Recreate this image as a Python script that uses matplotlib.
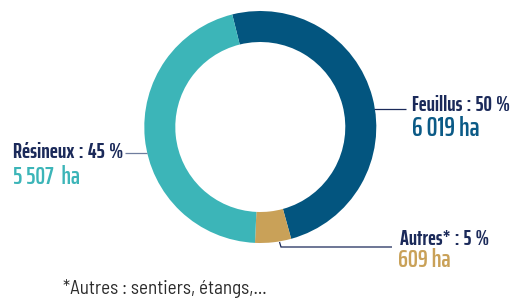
import matplotlib
matplotlib.use("Agg")
import matplotlib.pyplot as plt

# ---- data ----
categories = ["Feuillus", "Autres*", "Résineux"]
hectares = [6019, 609, 5507]
percents = [50, 5, 45]
value_labels = ["6 019 ha", "609 ha", "5 507  ha"]
footnote = "*Autres : sentiers, étangs,..."

# ---- style ----
W, H = 514, 298
seg_colors = ["#03557F", "#C9A158", "#3CB5B8"]
val_colors = ["#0B5A86", "#C9A158", "#3CB5B8"]
navy = "#1B2A5A"
label_font = ["Saira ExtraCondensed", "DejaVu Sans"]
foot_font = "Barlow Semi Condensed"

fig = plt.figure(figsize=(W / 100, H / 100), dpi=100)
ax = fig.add_axes([0, 0, 1, 1])

def py(y):
    return H - y

cx, cy, R, ring = 260.3, 127.0, 116.0, 31.0
ax.pie(hectares, colors=seg_colors, startangle=104, counterclock=False,
       center=(cx, py(cy)), radius=R,
       wedgeprops=dict(width=ring, edgecolor="none", linewidth=0))
ax.set_xlim(0, W)
ax.set_ylim(0, H)
ax.set_aspect("equal")
ax.axis("off")

# leader lines
ax.plot([374, 406], [py(109), py(109)], color=navy, lw=0.9, solid_capstyle="butt")
ax.plot([125, 147], [py(153.3), py(153.3)], color="#6F7D9E", lw=0.9, solid_capstyle="butt")
ax.plot([279.5, 281, 392], [py(242), py(247), py(247)], color=navy, lw=0.9,
        solid_capstyle="butt", solid_joinstyle="miter")

renderer = fig.canvas.get_renderer()

def fitted(x, y, s, width, **kw):
    t = ax.text(x, py(y), s, ha="left", va="baseline", **kw)
    for _ in range(3):
        w = t.get_window_extent(renderer=renderer).width
        t.set_fontsize(t.get_fontsize() * width / w)
    return t

TS = "\u2009"
def lab(i):
    return f"{categories[i]}{TS}:{TS}{percents[i]}{TS}%"

# Feuillus
fitted(411.5, 111.0, lab(0), 98, color=navy, family=label_font, weight="bold", fontsize=16)
fitted(412.0, 136.0, value_labels[0], 68, color=val_colors[0], family=label_font, weight="semibold", fontsize=16)
# Résineux
fitted(13.3, 158.3, lab(2), 110, color=navy, family=label_font, weight="bold", fontsize=16)
fitted(13.3, 184.0, value_labels[2], 67, color=val_colors[2], family=label_font, weight="semibold", fontsize=16)
# Autres
fitted(400.0, 245.0, lab(1), 89, color=navy, family=label_font, weight="bold", fontsize=16)
fitted(398.5, 266.7, value_labels[1], 53, color=val_colors[1], family=label_font, weight="semibold", fontsize=16)
# footnote
fitted(63.3, 294.5, footnote, 204, color="#2B2B2B", family=foot_font, fontsize=11)

fig.savefig("out.png", dpi=100)
